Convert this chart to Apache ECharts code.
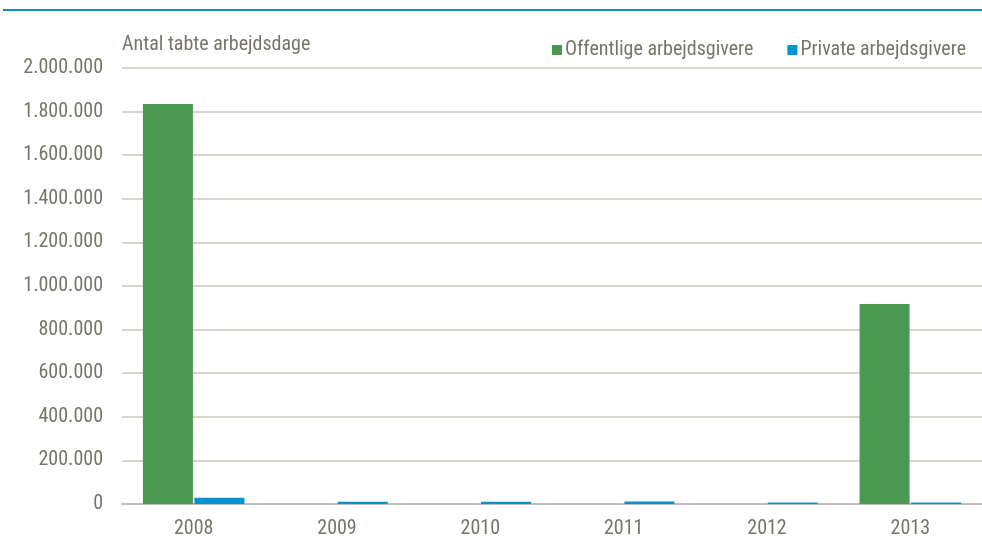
<!DOCTYPE html>
<html>
<head>
<meta charset="utf-8">
<script src="https://cdn.jsdelivr.net/npm/echarts@6/dist/echarts.min.js"></script>
<style>
  html, body { margin: 0; padding: 0; background: #fff; }
  #chart { width: 982px; height: 548px; }
</style>
</head>
<body>
<div id="chart"></div>
<script>
const years = ['2008', '2009', '2010', '2011', '2012', '2013'];
const offentlige = [1835000, 500, 500, 500, 500, 917000];
const private_ = [29000, 10500, 10000, 12000, 7000, 7000];
const yTicks = [0, 200000, 400000, 600000, 800000, 1000000, 1200000, 1400000, 1600000, 1800000, 2000000];

const textColor = '#77756a';
const fontFam = '"Roboto Condensed", "Liberation Sans", sans-serif';

function fmt(v) {
  return String(v).replace(/\B(?=(\d{3})+(?!\d))/g, '.');
}

const chart = echarts.init(document.getElementById('chart'), null, { renderer: 'canvas' });

chart.setOption({
  animation: false,
  textStyle: { fontFamily: fontFam },
  graphic: [
    {
      type: 'rect',
      shape: { x: 3, y: 9, width: 979, height: 2 },
      style: { fill: '#0092d2' }
    },
    {
      type: 'text',
      left: 122,
      top: 35,
      style: { text: 'Antal tabte arbejdsdage', fill: textColor, font: '20px ' + fontFam }
    }
  ],
  legend: {
    right: 11,
    top: 35,
    itemWidth: 10,
    itemHeight: 10,
    itemGap: 34,
    icon: 'rect',
    textStyle: { color: textColor, fontSize: 20, padding: [0, 0, 0, -2] },
    data: ['Offentlige arbejdsgivere', 'Private arbejdsgivere']
  },
  grid: { left: 122, right: 0, top: 68, bottom: 44 },
  xAxis: {
    type: 'category',
    data: years,
    axisTick: { show: false },
    axisLine: { lineStyle: { color: '#b9b7ae', width: 1.5 } },
    axisLabel: { color: textColor, fontSize: 20, margin: 15 }
  },
  yAxis: {
    type: 'value',
    min: yTicks[0],
    max: yTicks[yTicks.length - 1],
    interval: yTicks[1] - yTicks[0],
    axisLine: { show: false },
    axisTick: { show: false },
    splitLine: { lineStyle: { color: '#c9c7be', width: 1.5 } },
    axisLabel: { color: textColor, fontSize: 20, margin: 19, formatter: fmt }
  },
  series: [
    {
      name: 'Offentlige arbejdsgivere',
      type: 'bar',
      data: offentlige,
      barWidth: 50,
      barGap: '3%',
      itemStyle: { color: '#4a9952' }
    },
    {
      name: 'Private arbejdsgivere',
      type: 'bar',
      data: private_,
      barWidth: 50,
      itemStyle: { color: '#0094d4' }
    }
  ]
});
</script>
</body>
</html>
